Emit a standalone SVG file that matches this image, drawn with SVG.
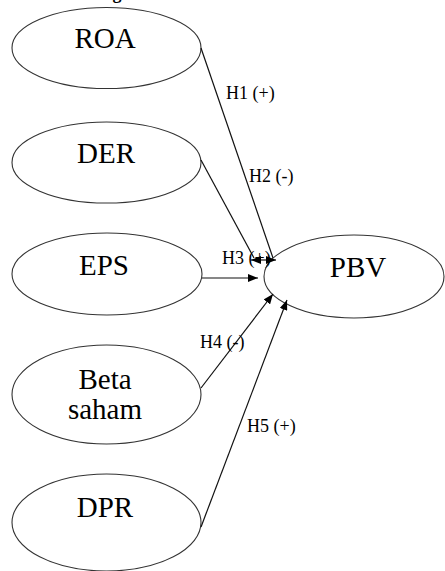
<svg xmlns="http://www.w3.org/2000/svg" width="445" height="571" viewBox="0 0 445 571">
<style>
.node ellipse{fill:#fff;stroke:#333;stroke-width:1.1}
.nt{font-family:'Liberation Serif','DejaVu Serif',serif;font-size:29px;fill:#000;text-anchor:middle}
.lbl{font-family:'Liberation Serif','DejaVu Serif',serif;font-size:18px;fill:#000}
.conn line{stroke:#111;stroke-width:1.2;fill:none}
</style>
<defs>
<marker id="ah" viewBox="0 0 10 8" refX="10" refY="4" markerWidth="10" markerHeight="8" markerUnits="userSpaceOnUse" orient="auto-start-reverse">
<path d="M0,0 L10,4 L0,8 z" fill="#000"/>
</marker>
</defs>
<rect width="445" height="571" fill="#fff"/>
<text x="117" y="-1" class="nt" style="font-size:18px;font-weight:bold">g</text>
<g id="roa" class="node"><ellipse cx="106.5" cy="48" rx="94.5" ry="40.5"/><text x="105" y="48" class="nt">ROA</text></g>
<g id="der" class="node"><ellipse cx="106.5" cy="162.5" rx="94.5" ry="40.5"/><text x="106" y="163" class="nt">DER</text></g>
<g id="eps" class="node"><ellipse cx="107" cy="274" rx="95" ry="41"/><text x="104" y="275" class="nt">EPS</text></g>
<g id="beta" class="node"><ellipse cx="106.5" cy="394.5" rx="94.5" ry="49.5"/><text x="105" y="389" class="nt">Beta</text><text x="105" y="419" class="nt">saham</text></g>
<g id="dpr" class="node"><ellipse cx="106.5" cy="522.5" rx="94.5" ry="48.5"/><text x="105" y="517" class="nt">DPR</text></g>
<g id="pbv" class="node"><ellipse cx="354" cy="276.5" rx="90" ry="41.5"/><text x="358" y="277" class="nt">PBV</text></g>
<g id="connectors" class="conn">
<line x1="201" y1="48" x2="273" y2="258"/>
<line x1="201" y1="160" x2="254" y2="258"/>
<line x1="251" y1="260" x2="276" y2="260" marker-start="url(#ah)" marker-end="url(#ah)"/>
<line x1="202" y1="278" x2="258" y2="278" marker-end="url(#ah)"/>
<line x1="201" y1="388" x2="273" y2="294" marker-end="url(#ah)"/>
<line x1="201" y1="527" x2="287" y2="300" marker-end="url(#ah)"/>
</g>
<g id="labels">
<text x="226" y="99" class="lbl">H1 (+)</text>
<text x="249" y="182" class="lbl">H2 (-)</text>
<text x="222" y="264" class="lbl">H3 (+)</text>
<text x="200" y="348" class="lbl">H4 (-)</text>
<text x="247" y="432" class="lbl">H5 (+)</text>
</g>
</svg>
